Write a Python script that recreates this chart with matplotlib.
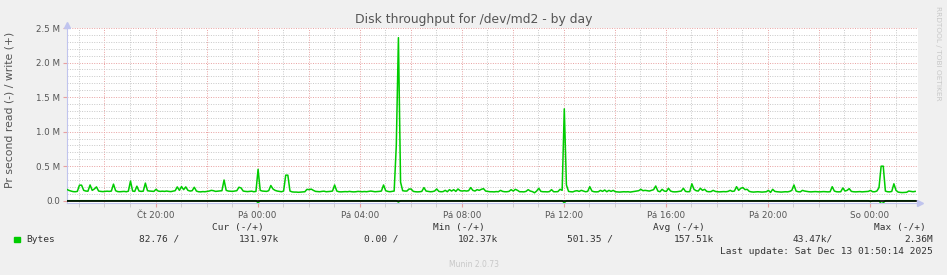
import numpy as np
from matplotlib import pyplot as plt
from matplotlib.ticker import FixedLocator, FuncFormatter

# write bytes/s in k, one sample per 5 minutes, starting Thu 16:31
write_k = [
    165, 150, 140, 132, 130, 135, 225, 225, 150, 140, 138, 228, 150, 170, 200, 140, 135, 132, 135, 138,
    135, 140, 240, 145, 132, 130, 133, 135, 130, 138, 285, 140, 135, 210, 140, 135, 138, 255, 145, 140,
    138, 135, 165, 140, 135, 138, 135, 140, 135, 132, 138, 145, 200, 150, 205, 160, 200, 150, 140, 145,
    195, 140, 130, 128, 132, 130, 135, 140, 150, 145, 135, 138, 140, 145, 300, 150, 140, 138, 135, 140,
    145, 195, 185, 140, 135, 132, 135, 138, 130, 135, 455, 150, 140, 138, 135, 145, 220, 170, 150, 140,
    135, 130, 140, 370, 370, 140, 128, 125, 125, 122, 125, 128, 130, 165, 160, 168, 150, 135, 132, 130,
    135, 138, 130, 132, 135, 140, 228, 140, 130, 128, 130, 132, 130, 135, 130, 128, 130, 135, 132, 130,
    133, 130, 135, 140, 135, 130, 132, 135, 140, 228, 145, 135, 130, 135, 140, 800, 2360, 270, 145, 140,
    140, 170, 168, 135, 130, 128, 130, 135, 190, 140, 135, 130, 132, 140, 170, 135, 130, 132, 150, 130,
    160, 140, 160, 135, 170, 145, 140, 145, 140, 145, 190, 150, 140, 160, 150, 165, 175, 140, 135, 130,
    130, 128, 132, 130, 150, 135, 130, 130, 135, 160, 140, 165, 150, 130, 130, 128, 135, 160, 140, 132,
    115, 140, 180, 135, 130, 130, 128, 132, 160, 130, 130, 132, 165, 150, 1330, 228, 135, 130, 128, 140,
    145, 135, 150, 140, 130, 135, 203, 140, 130, 128, 130, 150, 135, 155, 130, 150, 135, 150, 130, 128,
    125, 128, 130, 128, 130, 125, 130, 135, 140, 145, 165, 145, 150, 145, 140, 150, 160, 213, 140, 130,
    165, 140, 135, 180, 140, 130, 128, 130, 135, 140, 180, 135, 130, 132, 245, 165, 145, 140, 180, 150,
    165, 135, 130, 132, 150, 135, 130, 128, 130, 132, 130, 135, 150, 135, 140, 203, 150, 180, 190, 160,
    165, 135, 128, 125, 128, 130, 128, 125, 128, 130, 150, 120, 165, 135, 130, 128, 125, 128, 130, 128,
    135, 150, 228, 140, 130, 128, 150, 140, 135, 130, 128, 130, 132, 130, 128, 130, 132, 130, 128, 130,
    203, 140, 130, 128, 130, 185, 140, 150, 175, 135, 130, 128, 130, 132, 128, 130, 132, 135, 150, 130,
    130, 140, 190, 500, 500, 140, 130, 128, 135, 245, 150, 125, 120, 118, 120, 122, 140, 135, 130, 135,
]
# read bytes/s in k (drawn negative); only the visible dips
read_dips = {90: 30, 156: 20, 234: 30, 378: 12, 383: 43, 384: 30}

START_H = 16.52          # hours since Thu 00:00
END_H = 49.87
days = ["Čt", "Pá", "So"]
x_labels_h = [20, 24, 28, 32, 36, 40, 44, 48]

legend_cols = ["Cur (-/+)", "Min (-/+)", "Avg (-/+)", "Max (-/+)"]
legend_vals = ["82.76 /", "131.97k", "0.00 /", "102.37k", "501.35 /", "157.51k", "43.47k/", "2.36M"]
last_update = "Last update: Sat Dec 13 01:50:14 2025"

GREEN = "#00CC00"
RED = "#E8A0A0"
GREY = "#C8C8C8"
AXIS = "#C0C4EE"

write = np.array(write_k) * 1e3
read = np.zeros(len(write))
for i, v in read_dips.items():
    read[i] = -v * 1e3
t = START_H + np.arange(len(write)) * 5 / 60

fig = plt.figure(figsize=(9.47, 2.75), dpi=100, facecolor="#F0F0F0")
ax = fig.add_axes([66.7 / 947, 72 / 275, 851 / 947, 175 / 275])
ax.set_facecolor("white")
ax.set_xlim(START_H, END_H)
ax.set_ylim(-33e3, 2.5e6)

# grid
for h in np.arange(17, 50):
    ax.axvline(h, color=RED if h % 2 == 0 else GREY, lw=0.7, ls=(0, (1, 1.5)), zorder=1)
for v in np.arange(1, 26) * 1e5:
    ax.axhline(v, color=RED if round(v / 1e5) % 5 == 0 else GREY, lw=0.7, ls=(0, (1, 1.5)), zorder=1)

ax.plot(t, read, color=GREEN, lw=1.1, zorder=3)
ax.axhline(0, color="black", lw=1.2, zorder=4)
ax.plot(t, write, color=GREEN, lw=1.1, zorder=5)

for sp in ["top", "right"]:
    ax.spines[sp].set_visible(False)
ax.spines["left"].set_color(AXIS)
ax.spines["bottom"].set_color(AXIS)
ax.plot([START_H], [2.55e6], marker="^", color=AXIS, ms=4, clip_on=False, zorder=6)
ax.plot([END_H + 0.1], [-33e3], marker=">", color=AXIS, ms=4, clip_on=False, zorder=6)

ax.xaxis.set_major_locator(FixedLocator(x_labels_h))
ax.xaxis.set_minor_locator(FixedLocator(np.arange(17, 50)))
ax.xaxis.set_major_formatter(FuncFormatter(lambda h, p: f"{days[int(h) // 24]} {int(h) % 24:02d}:00"))
ax.tick_params(axis="x", which="major", length=3, color=RED, labelsize=6.3, labelcolor="#555555", pad=3)
ax.tick_params(axis="x", which="minor", length=3, color=GREY)

ax.yaxis.set_major_locator(FixedLocator(np.arange(0, 6) * 5e5))
ax.yaxis.set_major_formatter(FuncFormatter(lambda v, p: "0.0" if v == 0 else f"{v / 1e6:.1f} M"))
ax.tick_params(axis="y", length=3, color=RED, labelsize=6.3, labelcolor="#555555", pad=2)

ax.set_ylabel("Pr second read (-) / write (+)", fontsize=7.8, color="#555555")
ax.yaxis.set_label_coords(-0.061, 0.53)

fig.text(473.5 / 947, 1 - 19 / 275, "Disk throughput for /dev/md2 - by day",
         ha="center", va="center", fontsize=8.9, color="#555555")
fig.text(937.7 / 947, 1 - 53 / 275, "RRDTOOL / TOBI OETIKER", rotation=-90,
         ha="center", va="center", fontsize=5.3, color="#C8C8C8")

mono = dict(family="DejaVu Sans Mono", fontsize=6.8, color="#333333", va="center")
for lab, xr in zip(legend_cols, [264, 485, 705, 926]):
    fig.text(xr / 947, 1 - 227.7 / 275, lab, ha="right", **mono)
fig.patches.append(plt.Rectangle((14 / 947, 1 - 242 / 275), 5.5 / 947, 5.5 / 275,
                                 transform=fig.transFigure, color=GREEN))
fig.text(26 / 947, 1 - 239.3 / 275, "Bytes", ha="left", **mono)
for val, xr in zip(legend_vals, [179, 279, 398, 498, 613, 714, 833, 933]):
    fig.text(xr / 947, 1 - 239.3 / 275, val, ha="right", **mono)
fig.text(933 / 947, 1 - 251.7 / 275, last_update, ha="right", **mono)
fig.text(473.5 / 947, 1 - 264.3 / 275, "Munin 2.0.73", ha="center", va="center",
         fontsize=5.5, color="#C8C8C8")

fig.savefig("out.png", dpi=100, facecolor=fig.get_facecolor())
